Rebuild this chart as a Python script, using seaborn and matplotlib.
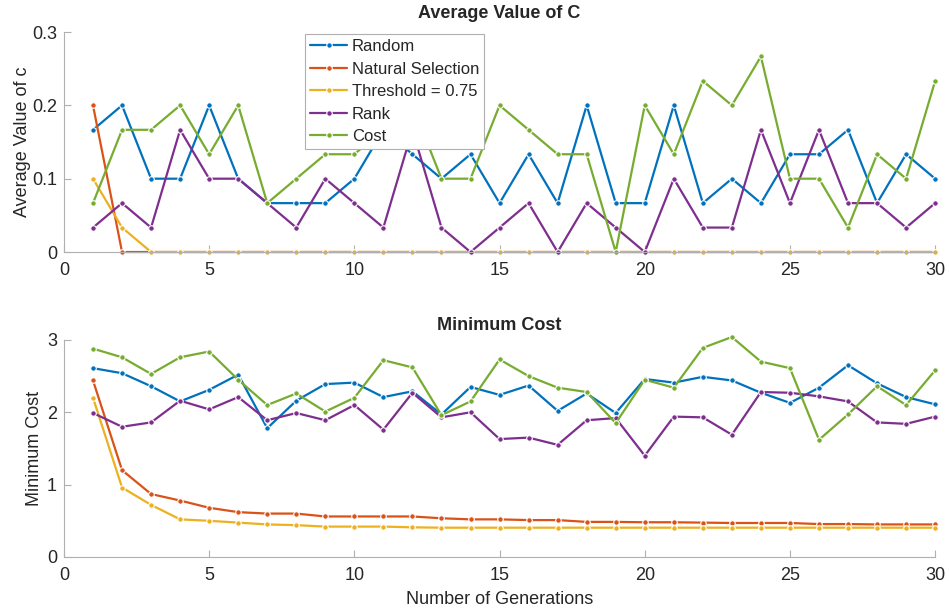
import numpy as np
import pandas as pd
import matplotlib
matplotlib.use("Agg")
import matplotlib.pyplot as plt
import seaborn as sns

generations = list(range(1, 31))
series_names = ["Random", "Natural Selection", "Threshold = 0.75", "Rank", "Cost"]
colors = ["#0072BD", "#D95319", "#EDB120", "#7E2F8E", "#77AC30"]

t = 1 / 30
avg_random = [5*t, 6*t, 3*t, 3*t, 6*t, 3*t, 2*t, 2*t, 2*t, 3*t,
              5*t, 4*t, 3*t, 4*t, 2*t, 4*t, 2*t, 6*t, 2*t, 2*t,
              6*t, 2*t, 3*t, 2*t, 4*t, 4*t, 5*t, 2*t, 4*t, 3*t]
avg_natural = [6*t] + [0.0] * 29
avg_threshold = [3*t, 1*t] + [0.0] * 28
avg_rank = [1*t, 2*t, 1*t, 5*t, 3*t, 3*t, 2*t, 1*t, 3*t, 2*t,
            1*t, 5*t, 1*t, 0.0, 1*t, 2*t, 0.0, 2*t, 1*t, 0.0,
            3*t, 1*t, 1*t, 5*t, 2*t, 5*t, 2*t, 2*t, 1*t, 2*t]
avg_cost = [2*t, 5*t, 5*t, 6*t, 4*t, 6*t, 2*t, 3*t, 4*t, 4*t,
            5*t, 6*t, 3*t, 3*t, 6*t, 5*t, 4*t, 4*t, 0.0, 6*t,
            4*t, 7*t, 6*t, 8*t, 3*t, 3*t, 1*t, 4*t, 3*t, 7*t]

min_random = [2.61, 2.54, 2.36, 2.15, 2.31, 2.52, 1.78, 2.16, 2.39, 2.41,
              2.21, 2.29, 1.97, 2.35, 2.24, 2.37, 2.02, 2.26, 1.99, 2.46,
              2.41, 2.49, 2.44, 2.27, 2.13, 2.34, 2.65, 2.40, 2.21, 2.11]
min_natural = [2.44, 1.20, 0.87, 0.78, 0.68, 0.62, 0.60, 0.60, 0.56, 0.56,
               0.56, 0.56, 0.535, 0.52, 0.52, 0.51, 0.51, 0.485, 0.485, 0.48,
               0.48, 0.475, 0.47, 0.47, 0.47, 0.455, 0.455, 0.45, 0.45, 0.45]
min_threshold = [2.20, 0.96, 0.72, 0.52, 0.50, 0.475, 0.45, 0.44, 0.42, 0.42,
                 0.42, 0.41, 0.405, 0.405, 0.405, 0.405, 0.405, 0.405, 0.405, 0.405,
                 0.405, 0.405, 0.405, 0.405, 0.405, 0.405, 0.405, 0.405, 0.405, 0.405]
min_rank = [1.99, 1.80, 1.86, 2.16, 2.04, 2.21, 1.89, 1.99, 1.89, 2.10,
            1.76, 2.27, 1.93, 2.00, 1.63, 1.65, 1.55, 1.89, 1.92, 1.40,
            1.94, 1.93, 1.69, 2.28, 2.27, 2.22, 2.15, 1.86, 1.84, 1.94]
min_cost = [2.88, 2.76, 2.53, 2.76, 2.84, 2.45, 2.10, 2.26, 2.01, 2.20,
            2.72, 2.62, 1.96, 2.15, 2.73, 2.50, 2.34, 2.28, 1.85, 2.45,
            2.34, 2.89, 3.04, 2.70, 2.61, 1.62, 1.97, 2.36, 2.10, 2.58]

def long_df(arrs):
    rows = []
    for name, vals in zip(series_names, arrs):
        for g, v in zip(generations, vals):
            rows.append({"gen": g, "val": v, "series": name})
    return pd.DataFrame(rows)

df_avg = long_df([avg_random, avg_natural, avg_threshold, avg_rank, avg_cost])
df_min = long_df([min_random, min_natural, min_threshold, min_rank, min_cost])

sns.set_style("white")
plt.rcParams["font.family"] = ["Liberation Sans", "DejaVu Sans"]
plt.rcParams["font.size"] = 12

fig = plt.figure(figsize=(9.49, 6.08), dpi=100)
ax1 = fig.add_axes([0.0674, 0.5855, 0.918, 0.3618])
ax2 = fig.add_axes([0.0674, 0.0839, 0.918, 0.357])

palette = dict(zip(series_names, colors))
for ax, df in [(ax1, df_avg), (ax2, df_min)]:
    sns.lineplot(data=df, x="gen", y="val", hue="series", hue_order=series_names,
                 palette=palette, marker="o", markersize=4, markeredgewidth=0.8,
                 linewidth=1.6, ax=ax, legend=(ax is ax1), errorbar=None)
    for ln in ax.get_lines():
        ln.set_clip_on(False)
    ax.set_xlim(0, 30)
    ax.set_xticks([0, 5, 10, 15, 20, 25, 30])
    for s in ["top", "right"]:
        ax.spines[s].set_visible(False)
    for s in ["left", "bottom"]:
        ax.spines[s].set_color("#b0b0b0")
        ax.spines[s].set_linewidth(0.8)
    ax.tick_params(direction="in", length=5, width=0.8, color="#b0b0b0",
                   labelsize=13, labelcolor="#262626", bottom=True, left=True)
    ax.tick_params(axis="x", pad=7)
    ax.tick_params(axis="y", pad=5)
    ax.set_xlabel("")

ax1.set_ylim(0, 0.3)
ax1.set_yticks([0, 0.1, 0.2, 0.3])
ax1.set_yticklabels(["0", "0.1", "0.2", "0.3"])
ax1.set_ylabel("Average Value of c", fontsize=13, color="#262626", labelpad=0.5)
ax1.set_title("Average Value of C", fontsize=13, fontweight="bold", pad=10)

ax2.set_ylim(0, 3)
ax2.set_yticks([0, 1, 2, 3])
ax2.set_ylabel("Minimum Cost", fontsize=13, color="#262626", labelpad=2.5)
ax2.set_title("Minimum Cost", fontsize=13, fontweight="bold", pad=7)
ax2.set_xlabel("Number of Generations", fontsize=13, color="#262626", labelpad=5)

leg = ax1.legend(loc="upper left", bbox_to_anchor=(0.277, 0.99), fontsize=12,
                 frameon=True, fancybox=False, framealpha=1, edgecolor="#b0b0b0",
                 handlelength=2.2, handletextpad=0.3, borderpad=0.3,
                 labelspacing=0.45, borderaxespad=0)
leg.get_frame().set_linewidth(0.8)
leg.set_zorder(10)

fig.savefig("out.png", dpi=100)
